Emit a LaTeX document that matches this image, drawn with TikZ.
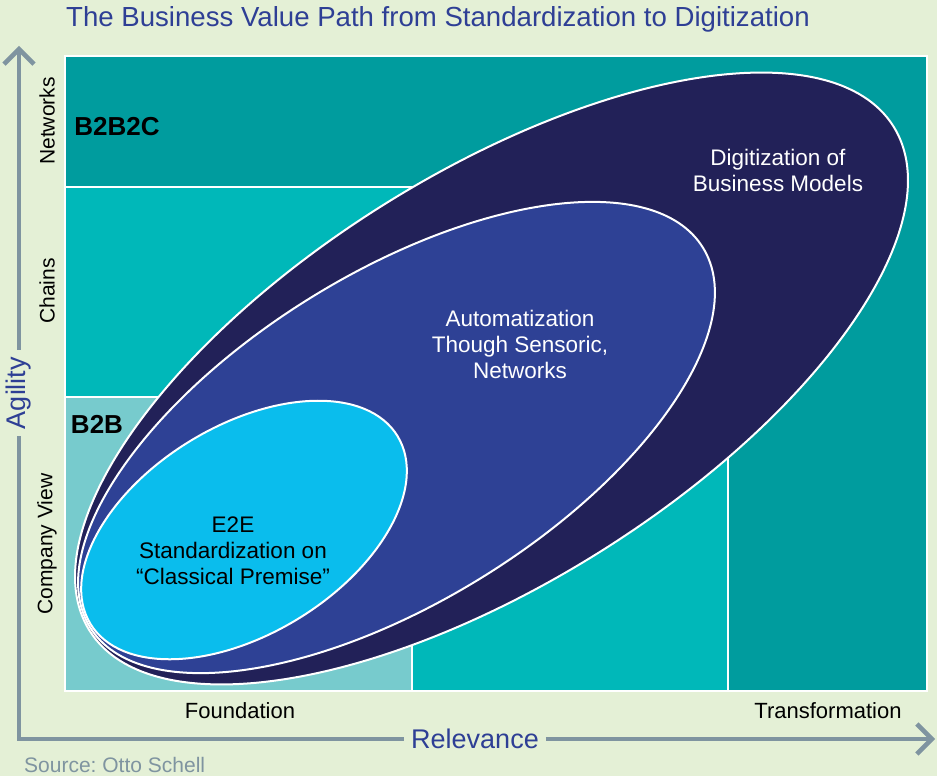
\documentclass[tikz,border=0pt]{standalone}
\usepackage{fontspec}
\setmainfont{Liberation Sans}
\usetikzlibrary{arrows.meta}
\frenchspacing

\definecolor{bg}{RGB}{228,240,214}
\definecolor{titleblue}{RGB}{46,63,149}
\definecolor{axisgrey}{RGB}{127,148,160}
\definecolor{tealdark}{RGB}{0,156,158}
\definecolor{tealmid}{RGB}{0,184,185}
\definecolor{teallight}{RGB}{119,203,205}
\definecolor{navy}{RGB}{34,33,88}
\definecolor{midblue}{RGB}{46,65,149}
\definecolor{skyblue}{RGB}{10,189,237}

\tikzset{
  divider/.style={draw=white, line width=2.5pt},
  blob/.style={draw=white, line width=2pt},
  axisline/.style={draw=axisgrey, line width=4.5pt, line join=miter},
  axistip/.style={-{Straight Barb[length=15pt,width=30pt]}},
  axislabel/.style={text=titleblue, font=\fontsize{27}{30}\selectfont, inner xsep=7pt, inner ysep=0pt},
  rowlabel/.style={text=black, font=\fontsize{21}{24}\selectfont, inner sep=0pt},
  collabel/.style={text=black, font=\fontsize{22}{26}\selectfont, inner sep=0pt},
  zonelabel/.style={text=black, font=\bfseries\fontsize{26}{30}\selectfont, inner sep=0pt},
  stagelabel/.style={align=center, font=\fontsize{22.5}{26}\selectfont, inner sep=0pt},
}

\begin{document}
\begin{tikzpicture}[x=1pt,y=-1pt]
  % canvas
  \useasboundingbox (0,0) rectangle (937,776);
  \fill[bg] (0,0) rectangle (937,776);

  % title
  \node[anchor=base west, inner sep=0pt, text=titleblue,
        font=\fontsize{27.6}{30}\selectfont] (title) at (66,27)
        {The Business Value Path from Standardization to Digitization};

  % matrix panels
  \fill[tealdark] (66,57) rectangle (926,690);
  \fill[tealmid] (66,187) rectangle (728,690);
  \fill[teallight] (66,397) rectangle (412,690);
  \draw[divider] (66,187) -- (728,187) -- (728,690);
  \draw[divider] (66,397) -- (412,397) -- (412,690);
  \draw[draw=white, line width=2pt] (65,56) rectangle (927,691);

  % zone names
  \node[zonelabel] (b2b2c) at (117,127) {B2B2C};
  \node[zonelabel] (b2b) at (97,424) {B2B};

  % outer stage: digitization of business models
  \draw[blob, fill=navy, rotate around={32.1:(491.5,378.5)}]
    (491.5,378.5) ellipse [x radius=474.5pt, y radius=204.5pt];

  % middle stage: automatization
  \draw[blob, fill=midblue, rotate around={31.8:(396.5,437.5)}]
    (396.5,437.5) ellipse [x radius=360.5pt, y radius=164pt];

  % inner stage: E2E standardization
  \draw[blob, fill=skyblue, rotate around={31.5:(244,530)}]
    (244,530) ellipse [x radius=180pt, y radius=104pt];

  % stage labels
  \node[stagelabel, text=white] (digit) at (778,170)
    {Digitization of\\Business Models};
  \node[stagelabel, text=white] (auto) at (520,344)
    {Automatization\\Though Sensoric,\\Networks};
  \node[stagelabel, text=black] (e2e) at (233,551)
    {E2E\\Standardization on\\“Classical Premise”};

  % row and column names
  \node[rowlabel, rotate=90] (rnet) at (47,121) {Networks};
  \node[rowlabel, rotate=90] (rchain) at (47,291) {Chains};
  \node[rowlabel, rotate=90] (rcomp) at (47,544) {Company View};
  \node[collabel] (cfound) at (240,711) {Foundation};
  \node[collabel] (ctrans) at (828,711) {Transformation};

  % axes
  \coordinate (ytip) at (19,46);
  \coordinate (xtip) at (935,739);
  \node[axislabel, rotate=90] (agility) at (19,393) {Agility};
  \node[axislabel] (relevance) at (475,739) {Relevance};
  \draw[axisline, axistip] (agility.east) -- (ytip);
  \draw[axisline] (agility.west) |- (relevance.west);
  \draw[axisline, axistip] (relevance.east) -- (xtip);

  % source line
  \node[anchor=base west, inner sep=0pt, text=axisgrey,
        font=\fontsize{21}{24}\selectfont] (source) at (24,772)
        {Source: Otto Schell};
\end{tikzpicture}
\end{document}
